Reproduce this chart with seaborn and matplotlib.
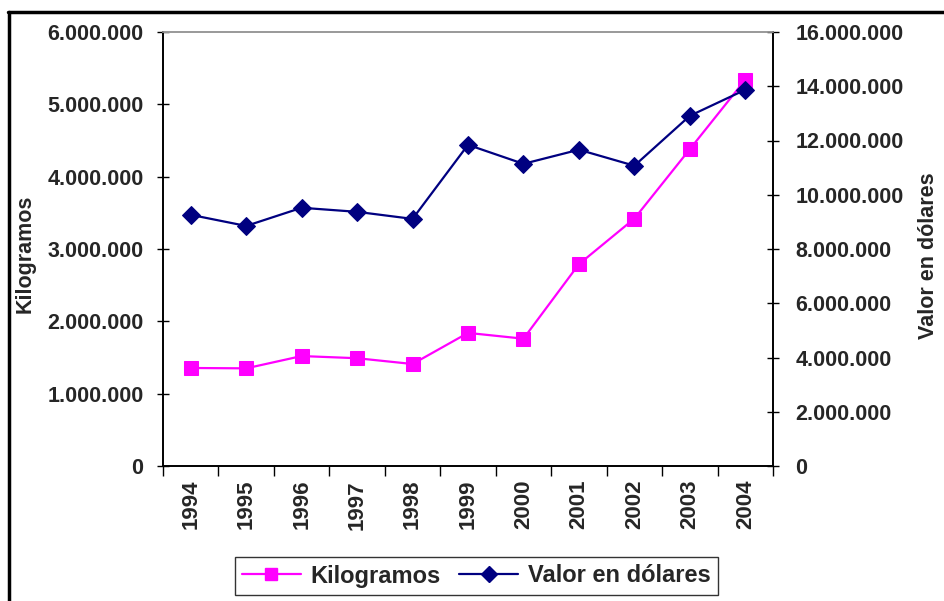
import matplotlib
matplotlib.use("Agg")
import matplotlib.pyplot as plt
from matplotlib.lines import Line2D
from matplotlib.ticker import FuncFormatter, FixedLocator
import seaborn as sns
import pandas as pd

years = ["1994", "1995", "1996", "1997", "1998", "1999", "2000", "2001", "2002", "2003", "2004"]
kilogramos = [1355000, 1350000, 1520000, 1490000, 1410000, 1840000, 1760000, 2790000, 3420000, 4380000, 5340000]
valor_dolares = [9260000, 8850000, 9520000, 9370000, 9110000, 11840000, 11140000, 11660000, 11070000, 12910000, 13870000]

df = pd.DataFrame({"pos": range(len(years)), "Kilogramos": kilogramos, "Valor": valor_dolares})

sns.set_style("white")
plt.rcParams["font.family"] = ["Liberation Sans", "DejaVu Sans"]
plt.rcParams["font.weight"] = "bold"

MAGENTA = "#ff00ff"
NAVY = "#000080"

fig = plt.figure(figsize=(9.44, 6.01), dpi=100)
W, H = 944, 601
ax = fig.add_axes([163 / W, 1 - 466 / H, (773 - 163) / W, (466 - 32) / H])
ax2 = ax.twinx()

sns.lineplot(data=df, x="pos", y="Kilogramos", ax=ax, color=MAGENTA, marker="s",
             markersize=10, markeredgecolor=MAGENTA, linewidth=1.6)
sns.lineplot(data=df, x="pos", y="Valor", ax=ax2, color=NAVY, marker="D",
             markersize=9, markeredgecolor=NAVY, linewidth=1.6)

def miles(v, p):
    return f"{int(v):,}".replace(",", ".")

ax.set_xlim(-0.5, len(years) - 0.5)
ax.set_ylim(0, 6000000)
ax2.set_ylim(0, 16000000)
ax.set_yticks(range(0, 6000001, 1000000))
ax2.set_yticks(range(0, 16000001, 2000000))
ax.yaxis.set_major_formatter(FuncFormatter(miles))
ax2.yaxis.set_major_formatter(FuncFormatter(miles))

ax.set_xticks(range(len(years)))
ax.set_xticklabels(years, rotation=90, fontsize=16, fontweight="bold")
ax.xaxis.set_minor_locator(FixedLocator([i - 0.5 for i in range(len(years) + 1)]))
ax.tick_params(axis="x", which="major", length=0, pad=10)
ax.tick_params(axis="x", which="minor", length=7, direction="out", width=1, color="black", bottom=True)
ax.tick_params(axis="y", which="major", length=8, direction="inout", width=1, color="black",
               labelsize=15.5, left=True, pad=10)
ax2.tick_params(axis="y", which="major", length=8, direction="inout", width=1, color="black",
                labelsize=15.5, right=True, pad=12)
for lbl in ax.get_yticklabels() + ax2.get_yticklabels():
    lbl.set_fontweight("bold")

ax.set_xlabel("")
ax.set_ylabel("Kilogramos", fontsize=15.5, fontweight="bold")
ax2.set_ylabel("Valor en dólares", fontsize=15.5, fontweight="bold")
ax.yaxis.set_label_coords(-0.208, 0.49)
ax2.yaxis.set_label_coords(1.238, 0.485)

for a in (ax, ax2):
    for side in ("left", "right", "bottom"):
        a.spines[side].set_color("black")
        a.spines[side].set_linewidth(1.2)
    a.spines["top"].set_color("#999999")
    a.spines["top"].set_linewidth(1.2)

handles = [
    Line2D([], [], color=MAGENTA, marker="s", markersize=9, linewidth=1.6),
    Line2D([], [], color=NAVY, marker="D", markersize=8, linewidth=1.6),
]
leg = fig.legend(handles, ["Kilogramos", "Valor en dólares"], loc="center",
                 bbox_to_anchor=(476 / W, 1 - 576 / H), ncol=2, frameon=True,
                 fancybox=False, edgecolor="black", fontsize=17, handlelength=2.5,
                 columnspacing=0.8, handletextpad=0.4, borderpad=0.3, borderaxespad=0)
leg.get_frame().set_linewidth(1.0)
for t in leg.get_texts():
    t.set_fontweight("bold")

# outer chart border (left and top edges visible)
fig.add_artist(Line2D([9 / W, 9 / W], [0, 1 - 12 / H], transform=fig.transFigure,
                      color="black", linewidth=2.5))
fig.add_artist(Line2D([8 / W, 1], [1 - 12 / H, 1 - 12 / H], transform=fig.transFigure,
                      color="black", linewidth=2.5))

fig.savefig("out.png", dpi=100)
